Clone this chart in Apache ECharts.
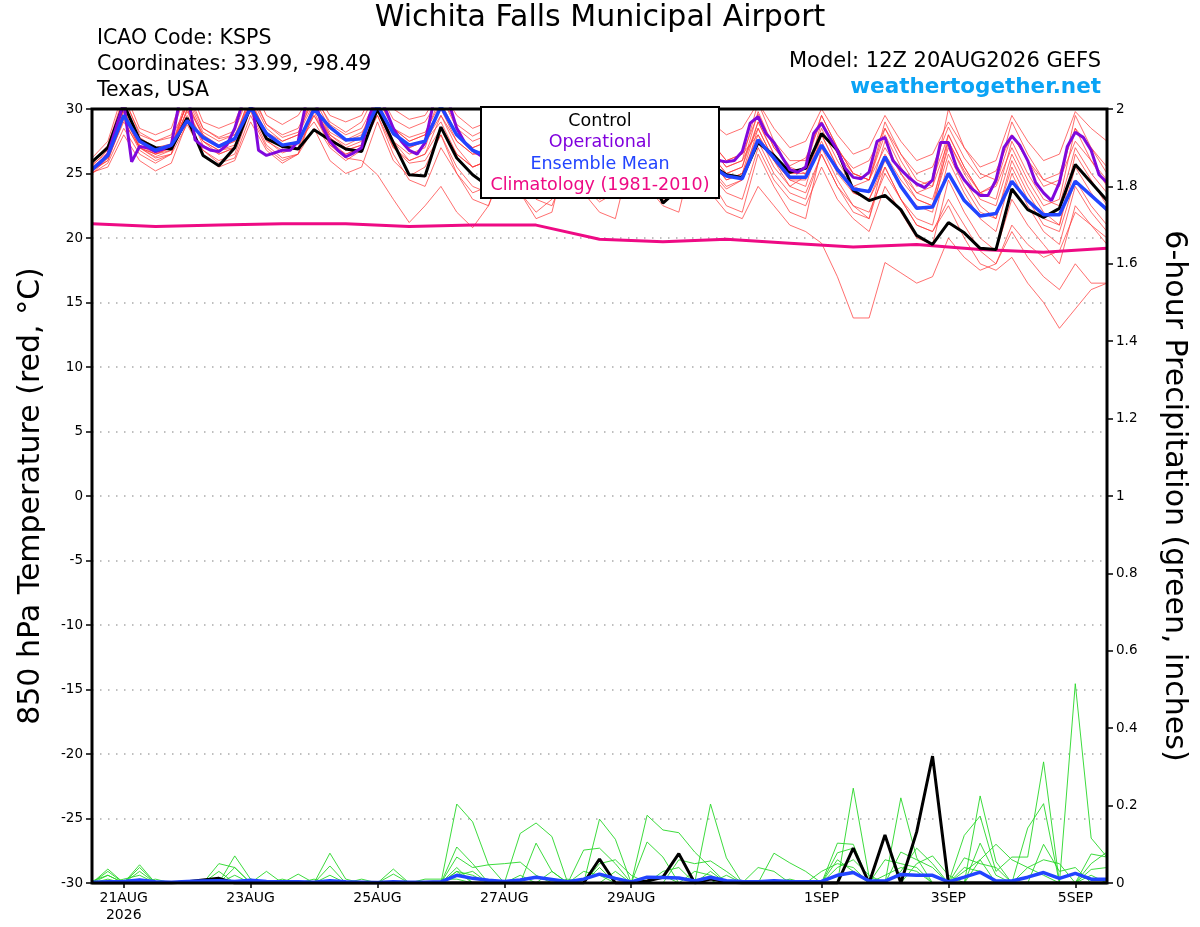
<!DOCTYPE html>
<html>
<head>
<meta charset="utf-8">
<title>Wichita Falls Municipal Airport</title>
<script src="https://cdn.jsdelivr.net/npm/echarts@6/dist/echarts.min.js"></script>
<style>
  html, body { margin: 0; padding: 0; background: #fff; }
  #chart { width: 1200px; height: 927px; }
</style>
</head>
<body>
<div id="chart"></div>
<script>
// --- time axis: hours since model run (12Z 20AUG2026) ---
const RUN_START = Date.UTC(2026, 7, 20, 12);
const MONTHS = ["JAN", "FEB", "MAR", "APR", "MAY", "JUN", "JUL", "AUG", "SEP", "OCT", "NOV", "DEC"];
const labelHours = [12, 60, 108, 156, 204, 276, 324, 372];

// --- 850 hPa temperature (degC), 6-hourly unless noted ---
const control = [
  25.9, 27.0, 30.4, 27.6, 27.0, 26.9, 29.3, 26.4, 25.6, 27.0,
  30.2, 27.7, 27.1, 26.9, 28.4, 27.6, 26.9, 26.7, 30.0, 27.4,
  24.9, 24.8, 28.6, 26.2, 24.9, 24.0, 25.5, 24.4, 24.2, 25.6,
  28.0, 26.0, 25.0, 24.2, 27.5, 25.4, 22.7, 23.8, 26.8, 25.7,
  24.9, 24.7, 27.4, 26.4, 25.1, 25.4, 28.1, 26.8, 23.7, 22.9,
  23.3, 22.2, 20.2, 19.5, 21.2, 20.4, 19.2, 19.1, 23.8, 22.2,
  21.6, 22.3, 25.7, 24.3, 22.9
];
// operational run, 3-hourly
const operational = [
  25.3, 25.8, 26.5, 28.5, 30.5, 25.9, 27.1, 27.0,
  26.7, 26.9, 27.2, 30.5, 31.5, 27.6, 27.1, 26.8,
  26.7, 27.2, 28.5, 30.5, 31.5, 26.8, 26.4, 26.6,
  26.8, 26.8, 27.5, 30.5, 31.0, 28.7, 27.5, 26.8,
  26.3, 26.6, 27.0, 29.5, 31.0, 30.0, 28.5, 27.5,
  26.8, 26.5, 27.4, 30.3, 31.5, 30.5, 28.5, 27.4,
  26.8, 26.4, 26.0, 27.5, 29.5, 28.5, 27.0, 26.0,
  25.5, 25.3, 25.8, 27.5, 29.0, 28.0, 26.5, 25.5,
  25.0, 24.8, 25.3, 27.0, 28.5, 27.5, 26.2, 25.3,
  24.8, 24.6, 25.2, 27.0, 28.3, 27.3, 26.3, 26.0,
  25.9, 26.0, 26.7, 28.9, 29.4, 28.1, 27.4, 26.3,
  25.3, 25.1, 25.5, 28.1, 28.9, 27.8, 26.8, 25.4,
  24.7, 24.6, 25.1, 27.5, 27.8, 26.0, 25.3, 24.7,
  24.2, 23.9, 24.5, 27.4, 27.4, 25.5, 24.5, 23.8,
  23.3, 23.3, 24.5, 27.0, 27.9, 27.2, 26.0, 24.3,
  23.5, 22.9, 24.3, 27.1, 28.2, 27.8, 26.8, 24.9,
  24.3
];
const ensMean = [
  25.3, 26.4, 29.5, 27.5, 26.8, 27.2, 29.1, 27.8, 27.1, 27.7,
  30.1, 28.1, 27.2, 27.4, 30.0, 28.6, 27.6, 27.7, 30.3, 28.1,
  27.2, 27.5, 30.2, 28.0, 26.8, 26.3, 25.9, 25.6, 25.8, 26.2,
  28.3, 26.5, 25.7, 25.6, 27.6, 26.0, 25.0, 25.0, 27.0, 25.6,
  24.8, 24.6, 27.6, 26.2, 24.7, 24.7, 27.2, 25.3, 23.8, 23.6,
  26.3, 24.0, 22.3, 22.4, 25.0, 22.9, 21.7, 21.9, 24.4, 22.9,
  21.8, 21.8, 24.4, 23.3, 22.2
];
// climatology, daily
const climatology = [21.1, 20.9, 21.0, 21.1, 21.1, 20.9, 21.0, 21.0, 19.9, 19.7, 19.9, 19.6, 19.3, 19.5, 19.1, 18.9, 19.2];

// ensemble members (6-hourly)
const memA = [25.8, 27.2, 31.0, 28.0, 27.5, 28.0, 31.5, 28.5, 27.8, 28.3, 31.5, 28.8, 28.0, 28.5, 31.0, 29.0, 28.2, 29.0, 31.5, 29.2, 28.5, 29.0, 31.0, 28.8, 27.9, 28.5, 30.5, 28.0, 27.2, 27.8, 30.0, 27.5, 26.8, 27.5, 29.8, 27.8, 26.5, 27.0, 29.5, 27.5, 26.0, 26.5, 29.6, 27.0, 25.6, 26.2, 29.0, 26.8, 25.4, 26.0, 28.5, 26.5, 25.0, 25.5, 28.6, 26.2, 24.6, 25.2, 28.0, 26.0, 24.5, 25.0, 28.5, 27.0, 25.5];
const memB = [25.2, 26.0, 29.5, 27.0, 26.5, 26.8, 29.0, 26.8, 26.0, 26.5, 30.0, 27.5, 26.8, 27.0, 29.5, 27.2, 26.2, 26.0, 24.9, 23.0, 21.2, 22.5, 24.0, 22.0, 20.8, 22.5, 25.5, 23.5, 22.0, 23.0, 26.0, 24.0, 22.8, 23.5, 27.0, 25.0, 23.5, 24.0, 27.5, 25.2, 23.8, 24.5, 28.5, 26.0, 24.0, 24.8, 28.0, 25.5, 24.0, 24.5, 27.0, 25.0, 23.5, 24.0, 27.5, 25.2, 23.5, 24.2, 28.0, 26.0, 24.0, 24.5, 27.5, 26.0, 24.5];
const memC = [25.5, 26.5, 30.0, 27.2, 26.5, 27.0, 30.5, 27.8, 27.0, 27.5, 30.8, 28.0, 27.0, 27.3, 30.0, 28.0, 27.0, 27.5, 30.5, 27.5, 26.0, 26.5, 29.5, 27.0, 25.5, 26.0, 28.5, 26.0, 24.5, 25.0, 27.5, 25.0, 23.5, 24.0, 27.0, 24.5, 23.0, 23.5, 26.0, 23.5, 22.0, 21.5, 24.0, 22.5, 21.0, 20.5, 19.6, 17.0, 13.8, 13.8, 18.1, 17.3, 16.5, 17.0, 20.0, 18.5, 17.5, 18.0, 21.0, 19.5, 18.5, 19.0, 22.0, 21.0, 20.0];
const memD = [25.0, 26.2, 29.0, 27.0, 26.5, 27.0, 30.5, 28.0, 27.2, 27.8, 31.0, 28.5, 27.5, 28.0, 30.5, 28.2, 27.5, 28.0, 31.0, 28.5, 27.8, 28.2, 30.5, 28.0, 27.0, 27.5, 29.5, 27.0, 26.0, 26.5, 29.0, 26.5, 25.0, 25.5, 28.5, 26.0, 24.5, 25.0, 28.0, 25.5, 24.0, 24.5, 27.5, 25.0, 23.5, 23.0, 26.5, 24.0, 22.5, 22.0, 25.0, 23.0, 21.0, 20.5, 22.5, 20.0, 18.0, 17.5, 18.5, 16.5, 15.0, 13.0, 14.5, 16.0, 16.5];
const memE = [25.6, 26.8, 30.5, 27.5, 26.8, 27.2, 29.8, 27.5, 26.8, 27.0, 30.2, 27.8, 27.0, 27.5, 29.5, 27.5, 26.5, 27.0, 30.0, 27.0, 26.0, 26.5, 28.5, 26.5, 25.5, 26.0, 28.0, 25.5, 24.5, 25.0, 27.5, 25.5, 24.0, 24.5, 28.0, 26.0, 24.5, 25.0, 28.5, 26.5, 25.0, 25.5, 29.0, 26.5, 25.0, 25.0, 27.5, 25.0, 23.5, 23.0, 25.5, 23.0, 21.0, 20.5, 23.0, 21.0, 19.0, 18.0, 20.5, 18.5, 17.0, 16.0, 18.0, 16.5, 16.5];
const memF = [25.0, 25.8, 28.5, 26.5, 25.8, 26.5, 28.8, 26.5, 25.5, 26.0, 29.0, 26.8, 25.8, 26.5, 28.5, 26.0, 25.0, 25.5, 29.0, 26.0, 24.8, 25.5, 28.0, 25.5, 24.0, 23.5, 26.5, 24.5, 23.0, 22.5, 25.5, 23.5, 22.0, 21.5, 26.5, 24.0, 22.5, 22.0, 27.0, 24.5, 22.5, 22.0, 26.5, 24.0, 22.0, 21.5, 27.0, 24.5, 22.5, 21.5, 25.5, 23.0, 21.5, 21.0, 26.0, 23.5, 21.5, 20.5, 25.0, 22.5, 20.5, 19.5, 24.0, 22.0, 20.5];
const memG = [26.2, 27.5, 31.5, 28.5, 28.0, 28.5, 32.0, 29.0, 28.5, 29.0, 32.0, 29.5, 28.8, 29.5, 31.5, 29.5, 29.0, 29.5, 32.0, 30.0, 29.2, 29.5, 31.5, 29.5, 28.5, 29.0, 31.0, 29.0, 28.0, 28.5, 31.0, 28.8, 27.5, 28.0, 30.5, 28.5, 27.5, 28.0, 31.0, 29.0, 28.0, 28.5, 30.5, 28.5, 27.0, 27.5, 30.0, 28.0, 26.5, 27.0, 29.5, 27.5, 26.0, 26.5, 29.0, 27.0, 25.5, 26.0, 29.5, 27.5, 26.0, 26.5, 29.8, 28.5, 27.5];
const memH = [25.4, 26.4, 30.0, 27.0, 26.2, 26.5, 30.0, 27.2, 26.5, 27.0, 30.5, 28.0, 27.2, 27.5, 29.0, 27.0, 26.0, 26.8, 30.2, 28.0, 27.0, 27.5, 29.5, 27.5, 26.5, 27.0, 29.0, 27.0, 25.5, 25.0, 27.5, 25.5, 24.0, 24.5, 28.5, 26.5, 25.0, 25.5, 29.0, 27.0, 25.5, 26.0, 28.5, 26.0, 24.5, 24.0, 28.0, 25.5, 23.5, 23.0, 26.0, 24.0, 22.5, 22.0, 27.5, 25.0, 23.0, 22.5, 26.5, 24.0, 22.0, 21.0, 25.5, 23.5, 22.0];
const memI = [25.9, 26.9, 30.2, 27.8, 27.0, 27.3, 29.5, 27.5, 26.8, 27.2, 30.0, 27.6, 26.6, 27.0, 30.5, 28.0, 27.2, 27.8, 29.5, 26.5, 24.5, 24.0, 27.0, 25.0, 23.5, 24.0, 28.0, 25.5, 24.0, 24.5, 29.0, 26.5, 25.0, 25.5, 29.5, 27.0, 25.5, 26.0, 28.5, 26.0, 24.5, 25.0, 29.0, 26.5, 25.0, 25.5, 29.5, 27.0, 25.0, 24.5, 28.0, 25.5, 23.5, 23.0, 27.0, 24.5, 22.5, 21.5, 25.5, 23.0, 21.0, 20.5, 24.5, 22.5, 21.0];
const memJ = [25.3, 26.0, 29.2, 26.8, 26.0, 26.5, 30.8, 28.2, 27.5, 28.0, 29.8, 27.2, 26.2, 26.5, 30.2, 27.8, 26.8, 27.2, 31.0, 28.5, 27.5, 28.0, 30.0, 27.5, 26.5, 26.5, 28.5, 26.5, 25.0, 25.5, 28.0, 26.0, 24.5, 24.0, 27.0, 25.0, 23.5, 24.0, 28.5, 26.0, 24.5, 25.0, 28.0, 25.5, 24.0, 23.5, 26.5, 24.0, 22.0, 21.5, 26.5, 24.5, 23.0, 22.5, 28.0, 25.5, 23.5, 23.0, 27.5, 25.0, 23.0, 22.5, 27.0, 25.0, 23.5];
const memK = [26.0, 27.0, 30.8, 28.2, 27.5, 27.8, 30.2, 28.0, 27.0, 27.5, 31.2, 28.8, 27.8, 28.2, 30.8, 28.5, 27.6, 28.2, 29.8, 27.5, 26.5, 27.0, 30.5, 28.0, 27.0, 27.5, 29.8, 27.5, 26.5, 27.0, 30.5, 28.0, 26.5, 27.0, 29.0, 27.0, 25.8, 26.2, 30.0, 27.5, 26.0, 26.5, 28.0, 26.0, 24.5, 24.5, 29.0, 26.5, 25.0, 24.5, 28.5, 26.0, 24.0, 24.5, 28.0, 25.5, 23.5, 24.0, 27.0, 24.5, 22.5, 23.0, 28.5, 26.0, 24.0];
const memL = [25.1, 25.5, 28.0, 26.0, 25.2, 25.8, 29.0, 26.8, 25.8, 26.2, 29.5, 27.0, 26.0, 26.5, 29.8, 27.2, 26.5, 27.0, 29.5, 27.0, 25.8, 26.0, 28.0, 25.0, 23.0, 22.5, 26.0, 23.5, 21.5, 22.0, 27.0, 24.5, 23.0, 23.5, 28.0, 25.5, 24.0, 24.5, 27.5, 25.0, 23.5, 23.0, 27.0, 24.5, 23.0, 22.5, 25.5, 23.0, 21.5, 20.5, 24.0, 22.0, 20.0, 19.5, 24.5, 22.0, 20.0, 19.0, 23.0, 21.0, 19.5, 18.0, 22.5, 21.0, 19.5];
const memM = [25.7, 26.6, 29.8, 27.4, 26.6, 27.0, 31.0, 28.5, 27.7, 28.0, 30.5, 28.2, 27.5, 28.0, 31.2, 28.8, 28.0, 28.5, 30.8, 28.5, 27.5, 28.0, 31.0, 28.5, 27.5, 28.0, 30.0, 27.5, 26.0, 26.5, 29.0, 27.0, 25.5, 26.0, 30.0, 27.5, 26.0, 26.5, 29.0, 26.5, 25.0, 25.5, 29.8, 27.0, 25.5, 25.0, 28.5, 26.0, 24.0, 23.5, 27.5, 25.0, 23.0, 22.5, 26.5, 24.0, 22.0, 21.5, 26.0, 23.5, 21.5, 21.0, 26.5, 24.5, 22.5];
const memN = [25.4, 26.2, 29.5, 27.0, 26.3, 26.8, 30.0, 27.5, 26.5, 27.0, 30.5, 28.0, 27.0, 27.4, 30.0, 27.8, 26.8, 27.2, 30.5, 28.0, 27.0, 27.5, 29.0, 26.5, 25.5, 26.0, 29.5, 27.0, 25.8, 26.0, 28.5, 26.5, 25.0, 25.5, 29.0, 26.5, 25.0, 25.5, 29.5, 27.0, 25.5, 26.0, 30.5, 27.5, 26.0, 26.0, 29.5, 27.0, 25.0, 24.5, 29.0, 26.5, 24.5, 24.0, 30.0, 27.0, 25.0, 24.5, 29.0, 26.5, 24.5, 24.0, 29.5, 27.0, 25.0];
const tempMembers = [memA, memB, memC, memD, memE, memF, memG, memH, memI, memJ, memK, memL, memM, memN];

// --- 6-hour precipitation (inches) ---
const controlPrecip = [
  0, 0, 0, 0, 0, 0, 0.003, 0.008, 0.012, 0,
  0, 0, 0, 0, 0, 0, 0, 0, 0, 0,
  0, 0, 0, 0, 0, 0, 0, 0, 0, 0,
  0, 0, 0.062, 0, 0, 0.005, 0.015, 0.076, 0, 0.01,
  0.003, 0, 0, 0, 0, 0, 0, 0, 0.09, 0,
  0.124, 0, 0.132, 0.328, 0, 0, 0, 0, 0, 0,
  0, 0, 0, 0, 0
];
const meanPrecip = [
  0.002, 0.003, 0.004, 0.008, 0.003, 0.002, 0.004, 0.005, 0.006, 0.004,
  0.007, 0.004, 0.003, 0.003, 0.002, 0.006, 0.003, 0.002, 0.001, 0.003,
  0.002, 0.002, 0.003, 0.02, 0.012, 0.007, 0.004, 0.008, 0.015, 0.009,
  0.003, 0.01, 0.023, 0.012, 0.003, 0.015, 0.014, 0.013, 0.005, 0.015,
  0.006, 0.004, 0.003, 0.006, 0.004, 0.003, 0.004, 0.02, 0.027, 0.005,
  0.005, 0.022, 0.02, 0.02, 0.003, 0.015, 0.028, 0.005, 0.005, 0.015,
  0.027, 0.012, 0.025, 0.01, 0.01
];
const pcp1 = [0, .036, 0, .047, 0, 0, 0, 0, 0, .07, .01, 0, 0, 0, 0, 0, 0, 0, 0, 0, 0, 0, 0, .204, .158, .047, 0, 0, 0, 0, 0, 0, 0, 0, 0, 0, 0, 0, 0, .204, .065, 0, 0, 0, 0, 0, 0, 0, .245, .015, 0, 0, 0, 0, 0, 0, .225, .055, 0, 0, 0, 0, .515, .116, .067];
const pcp2 = [.005, .02, 0, .04, 0, 0, 0, 0, .05, .04, 0, 0, 0, 0, 0, .077, .01, 0, 0, 0, 0, 0, 0, .093, .05, 0, 0, .128, .155, .12, 0, 0, .165, .113, 0, 0, 0, 0, 0, 0, 0, 0, 0, 0, 0, 0, 0, .103, .1, 0, 0, .22, .065, 0, 0, 0, 0, 0, 0, .142, .205, 0, 0, 0, 0];
const pcp3 = [0, .03, 0, .03, 0, 0, 0, 0, 0, .04, 0, .03, 0, 0, 0, .044, 0, 0, 0, .036, 0, 0, 0, .067, .04, .047, .05, .054, .02, 0, 0, 0, 0, 0, 0, .175, .137, .13, .08, .04, 0, 0, 0, 0, 0, 0, 0, 0, 0, 0, 0, 0, 0, 0, 0, .123, .173, .03, .067, .067, .313, 0, 0, 0, 0];
const pcp4 = [0, 0, .01, .02, 0, 0, 0, 0, .03, 0, 0, 0, 0, .023, 0, 0, 0, 0, 0, .023, 0, 0, 0, .03, 0, 0, 0, 0, .103, .03, 0, .085, .09, .05, 0, .106, .067, 0, 0, .015, 0, 0, 0, .077, .052, .03, 0, .078, .09, 0, 0, .08, .06, .04, 0, 0, .103, .02, 0, 0, 0, 0, 0, .075, .067];
const pcp5 = [0, .01, 0, 0, 0, 0, 0, 0, 0, .02, 0, 0, 0, 0, 0, .02, 0, 0, 0, 0, 0, 0, 0, .02, .03, 0, 0, 0, 0, .03, 0, 0, .05, .06, .02, 0, 0, .06, .05, .057, .03, 0, 0, 0, 0, 0, .03, .05, .04, 0, .06, .05, .04, 0, 0, .065, .05, .04, 0, 0, 0, 0, 0, .035, .04];
const pcp6 = [0, 0, 0, .01, 0, 0, 0, 0, .015, 0, 0, 0, .01, 0, 0, 0, 0, 0, 0, 0, 0, .01, .01, .01, 0, 0, 0, 0, 0, 0, .01, 0, .04, 0, 0, 0, .03, .04, 0, .03, 0, 0, .04, .03, 0, 0, 0, .04, .06, .02, 0, 0, .05, .07, .02, 0, .06, .1, .06, .04, .02, 0, 0, .05, .08];
const pcp7 = [0, 0, 0, 0, .01, 0, 0, 0, 0, 0, .01, 0, 0, 0, 0, 0, 0, .01, 0, 0, 0, 0, 0, .04, 0, 0, 0, .02, 0, 0, 0, 0, 0, .03, 0, 0, .02, 0, 0, 0, .02, 0, 0, 0, .01, 0, 0, .02, .03, 0, .02, .04, .03, 0, 0, .03, .06, 0, 0, 0, .1, .03, .04, 0, 0];
const pcp8 = [0, .02, 0, 0, 0, 0, 0, 0, 0, 0, 0, 0, 0, 0, .01, 0, 0, 0, 0, 0, 0, 0, 0, .03, .02, 0, 0, 0, 0, 0, 0, .03, .02, 0, 0, 0, 0, 0, .03, .02, 0, 0, 0, 0, 0, 0, 0, .06, .03, 0, 0, .03, .09, .05, 0, .04, .03, 0, 0, .04, .06, .05, 0, .02, 0];
const precipMembers = [pcp1, pcp2, pcp3, pcp4, pcp5, pcp6, pcp7, pcp8];

// --- layout ---
const W = 1200, H = 927;
const GRID = { left: 92, right: 93, top: 109, bottom: 44 };
const FONT = "DejaVu Sans";

function pairs(values, stepHours) {
  return values.map((v, i) => [i * stepHours, v]);
}
function hourLabel(h) {
  const d = new Date(RUN_START + h * 3600 * 1000);
  const txt = d.getUTCDate() + MONTHS[d.getUTCMonth()];
  return h === labelHours[0] ? txt + "\n" + d.getUTCFullYear() : txt;
}
function lineSeries(name, values, step, color, width, axis, z) {
  return {
    name: name,
    type: "line",
    yAxisIndex: axis,
    data: pairs(values, step),
    symbol: "none",
    silent: true,
    clip: true,
    lineStyle: { color: color, width: width },
    z: z
  };
}

const series = [];
tempMembers.forEach((m, k) => series.push(lineSeries("member" + k, m, 6, "rgba(255,55,55,0.72)", 1, 0, 2)));
precipMembers.forEach((m, k) => series.push(lineSeries("pcp" + k, m, 6, "rgba(40,215,40,0.9)", 1, 1, 2)));
series.push(lineSeries("Climatology (1981-2010)", climatology, 24, "#ee0a84", 3, 0, 3));
series.push(lineSeries("Control", control, 6, "#000000", 3, 0, 4));
series.push(lineSeries("Control precip", controlPrecip, 6, "#000000", 3, 1, 4));
series.push(lineSeries("Operational", operational, 3, "#8008dc", 3, 0, 5));
series.push(lineSeries("Ensemble Mean", ensMean, 6, "#2244ff", 3.5, 0, 6));
series.push(lineSeries("Ensemble Mean precip", meanPrecip, 6, "#2244ff", 3.5, 1, 6));

const legendItems = [
  { text: "Control", color: "#000000" },
  { text: "Operational", color: "#8000dd" },
  { text: "Ensemble Mean", color: "#2244ff" },
  { text: "Climatology (1981-2010)", color: "#ee0a84" }
];
const LEG = { x: 481, y: 107, w: 238, h: 91 };

const graphics = [
  { type: "text", left: "center", top: 3, style: { text: "Wichita Falls Municipal Airport", font: "30px " + FONT, fill: "#000" } },
  { type: "text", left: 97, top: 28, style: { text: "ICAO Code: KSPS", font: "20.5px " + FONT, fill: "#000" } },
  { type: "text", left: 97, top: 54, style: { text: "Coordinates: 33.99, -98.49", font: "20.5px " + FONT, fill: "#000" } },
  { type: "text", left: 97, top: 80, style: { text: "Texas, USA", font: "20.5px " + FONT, fill: "#000" } },
  { type: "text", right: W - 1101, top: 51, style: { text: "Model: 12Z 20AUG2026 GEFS", font: "21px " + FONT, fill: "#000" } },
  { type: "text", right: W - 1101, top: 76, style: { text: "weathertogether.net", font: "bold 21.5px " + FONT, fill: "#0aa3f5" } },
  {
    type: "rect", z: 100,
    shape: { x: GRID.left, y: GRID.top, width: W - GRID.left - GRID.right, height: H - GRID.top - GRID.bottom },
    style: { fill: null, stroke: "#000", lineWidth: 3 }
  },
  {
    type: "rect", z: 100,
    shape: { x: LEG.x, y: LEG.y, width: LEG.w, height: LEG.h },
    style: { fill: "#fff", stroke: "#000", lineWidth: 2 }
  }
];
legendItems.forEach((item, k) => {
  graphics.push({
    type: "text", z: 101,
    x: LEG.x + LEG.w / 2, y: LEG.y + 14 + k * 21.5,
    style: { text: item.text, font: "17.5px " + FONT, fill: item.color, align: "center", verticalAlign: "middle" }
  });
});

const chart = echarts.init(document.getElementById("chart"));
chart.setOption({
  animation: false,
  backgroundColor: "#fff",
  grid: GRID,
  xAxis: {
    type: "value",
    min: 0,
    max: 384,
    axisLine: { show: false, onZero: false },
    splitLine: { show: false },
    axisTick: { show: true, customValues: labelHours, length: 5, lineStyle: { color: "#000", width: 1.5 } },
    axisLabel: {
      customValues: labelHours,
      formatter: hourLabel,
      color: "#000",
      fontFamily: FONT,
      fontSize: 14,
      margin: 7,
      lineHeight: 17
    }
  },
  yAxis: [
    {
      type: "value",
      min: -30,
      max: 30,
      interval: 5,
      name: "850 hPa Temperature (red, \u00B0C)",
      nameLocation: "middle",
      nameGap: 46,
      nameTextStyle: { fontFamily: FONT, fontSize: 30, color: "#000" },
      axisLine: { show: false },
      axisTick: { show: true, length: 6, lineStyle: { color: "#000", width: 1.5 } },
      axisLabel: { color: "#000", fontFamily: FONT, fontSize: 13.5, margin: 9 },
      splitLine: { show: true, lineStyle: { color: "#aaaaaa", width: 1.5, type: [1.5, 6.5] } }
    },
    {
      type: "value",
      min: 0,
      max: 2,
      interval: 0.2,
      position: "right",
      name: "6-hour Precipitation (green, inches)",
      nameLocation: "middle",
      nameRotate: -90,
      nameGap: 52,
      nameTextStyle: { fontFamily: FONT, fontSize: 30, color: "#000" },
      axisLine: { show: false },
      axisTick: { show: true, length: 6, lineStyle: { color: "#000", width: 1.5 } },
      axisLabel: { color: "#000", fontFamily: FONT, fontSize: 13.5, margin: 9 },
      splitLine: { show: false }
    }
  ],
  graphic: graphics,
  series: series
});
window.addEventListener("resize", function () {
  chart.resize();
});
</script>
</body>
</html>
